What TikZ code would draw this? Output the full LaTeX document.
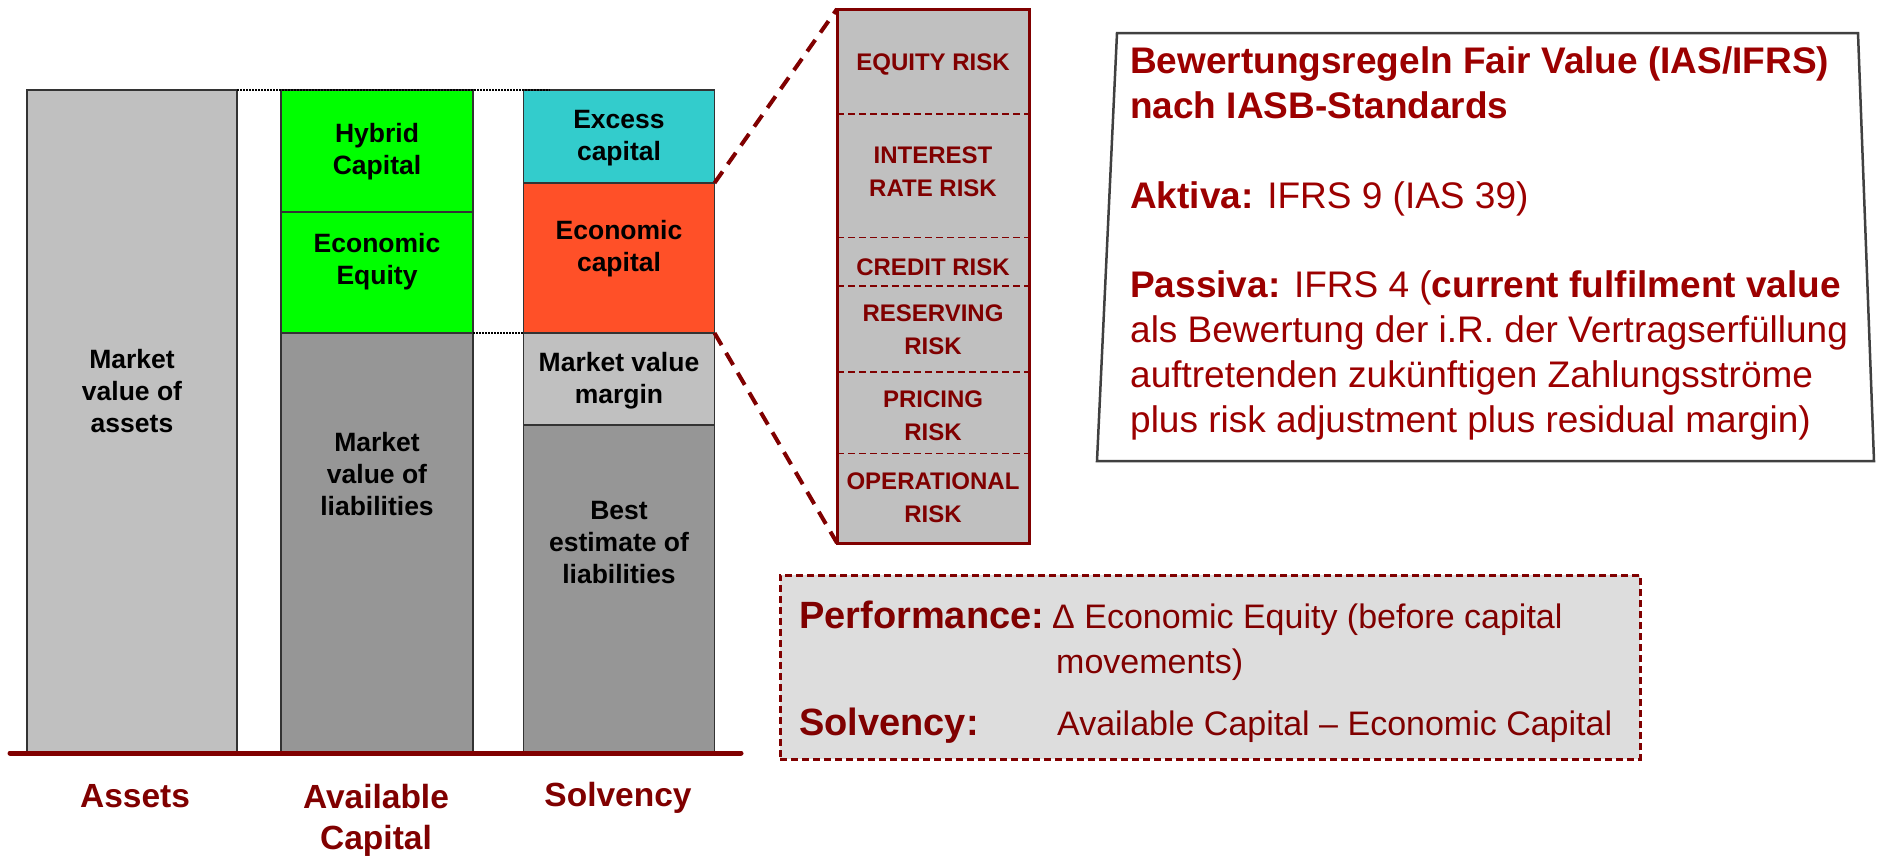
\documentclass[tikz,border=0pt]{standalone}
\usepackage{fontspec}
\setmainfont{Liberation Sans}
\usetikzlibrary{calc}

\definecolor{dred}{HTML}{800000}
\definecolor{fvred}{HTML}{9C0000}
\definecolor{lightbar}{HTML}{C0C0C0}
\definecolor{darkbar}{HTML}{969696}
\definecolor{eqgreen}{HTML}{00FF00}
\definecolor{exccyan}{HTML}{33CCCC}
\definecolor{ecored}{HTML}{FF5028}
\definecolor{kpigray}{HTML}{DDDDDD}
\definecolor{framegray}{HTML}{404040}
\definecolor{barline}{HTML}{333333}

\begin{document}
\begin{tikzpicture}[x=1pt,y=-1pt,
  bar/.style={draw=barline, line width=1.3pt, inner sep=0pt, outer sep=0pt},
  bartext/.style={font=\fontsize{26.5}{32}\selectfont\bfseries, align=center, text=black, inner sep=0pt},
  axislabel/.style={font=\fontsize{33.5}{41}\selectfont\bfseries, align=center, text=dred, inner sep=0pt},
  risktext/.style={font=\fontsize{24}{33}\selectfont\bfseries, align=center, text=dred, inner sep=0pt},
  zoomline/.style={draw=dred, line width=4pt, dash pattern=on 14pt off 9pt},
  guide/.style={draw=black, line width=1.5pt, dash pattern=on 1.5pt off 1.5pt},
  sepline/.style={draw=dred, line width=1.5pt, dash pattern=on 7pt off 4pt},
  fvtext/.style={anchor=base west, inner sep=0pt, text=fvred, font=\fontsize{37}{45}\selectfont},
  kpilabel/.style={anchor=base west, inner sep=0pt, text=dred, font=\fontsize{38}{45}\selectfont\bfseries},
  kpitext/.style={anchor=base west, inner sep=0pt, text=dred, font=\fontsize{34}{45}\selectfont}]
\useasboundingbox (0,0) rectangle (1877,857);

% --- balance sheet columns ---
\node[bar, fill=lightbar, minimum width=210pt, minimum height=663pt] (assets) at (132,421.5) {};

\node[bar, fill=eqgreen, minimum width=192pt, minimum height=122pt] (hybrid) at (377,151) {};
\node[bar, fill=eqgreen, minimum width=192pt, minimum height=121pt] (econeq) at (377,272.5) {};
\node[bar, fill=darkbar, minimum width=192pt, minimum height=420pt] (mvl) at (377,543) {};

\node[bar, fill=exccyan, minimum width=191pt, minimum height=93pt] (excess) at (619,136.5) {};
\node[bar, fill=ecored, minimum width=191pt, minimum height=150pt] (econcap) at (619,258) {};
\node[bar, fill=lightbar, minimum width=191pt, minimum height=92pt] (mvm) at (619,379) {};
\node[bar, fill=darkbar, minimum width=191pt, minimum height=328pt] (best) at (619,589) {};

% column texts
\node[bartext] (assetsT) at (132,391) {Market\\value of\\assets};
\node[bartext] (hybridT) at (377,152) {Hybrid\\Capital};
\node[bartext] (econeqT) at (377,262) {Economic\\Equity};
\node[bartext] (mvlT) at (377,474) {Market\\value of\\liabilities};
\node[bartext] (excessT) at (619,138) {Excess\\capital};
\node[bartext] (econcapT) at (619,249) {Economic\\capital};
\node[bartext] (mvmT) at (619,381) {Market value\\margin};
\node[bartext] (bestT) at (619,543) {Best\\estimate of\\liabilities};

% dotted level guides
\coordinate (topend) at (550,90);
\draw[guide] (assets.north east) -- (topend);
\draw[guide] (econeq.south east) -- (mvm.north west);

% base line and axis labels
\coordinate (axisL) at (10,753);
\coordinate (axisR) at (741,753);
\draw[dred, line width=5pt, line cap=round] (axisL) -- (axisR);
\node[axislabel] (labA) at (135,796) {Assets};
\node[axislabel] (labB) at (376,820) {Available\\Capital};
\node[axislabel] (labC) at (618,798) {Solvency};

% --- risk breakdown of the economic capital ---
\node[draw=dred, line width=3pt, fill=lightbar, minimum width=192pt, minimum height=534pt, inner sep=0pt, outer sep=0pt] (risk) at (933,276) {};
\foreach \yy in {114,237.5,286,372,453.6}
  \draw[sepline] (risk.west |- 0,\yy) -- (risk.east |- 0,\yy);
\draw[zoomline] (econcap.north east) -- (risk.north west);
\draw[zoomline] (econcap.south east) -- (risk.south west);
\node[risktext] (r1) at (933,64) {EQUITY RISK};
\node[risktext] (r2) at (933,172) {INTEREST\\RATE RISK};
\node[risktext] (r3) at (933,267) {CREDIT RISK};
\node[risktext] (r4) at (933,330) {RESERVING\\RISK};
\node[risktext] (r5) at (933,416) {PRICING\\RISK};
\node[risktext] (r6) at (933,498) {OPERATIONAL\\RISK};

% --- valuation rules panel ---
\coordinate (fvA) at (1117,33);
\coordinate (fvB) at (1858,33);
\coordinate (fvC) at (1874,461);
\coordinate (fvD) at (1097,461);
\draw[draw=framegray, line width=2.5pt, fill=white, line join=miter] (fvA) -- (fvB) -- (fvC) -- (fvD) -- cycle;
\node[fvtext] (fv1) at (1130,73) {\bfseries Bewertungsregeln Fair Value (IAS/IFRS)};
\node[fvtext] (fv2) at (1130,118) {\bfseries nach IASB-Standards};
\node[fvtext] (fv3) at (1130,208) {\textbf{Aktiva:} IFRS 9 (IAS 39)};
\node[fvtext] (fv4) at (1130,297) {\textbf{Passiva:} IFRS 4 (\textbf{current fulfilment value}};
\node[fvtext] (fv5) at (1130,342) {als Bewertung der i.R. der Vertragserfüllung};
\node[fvtext] (fv6) at (1130,387) {auftretenden zukünftigen Zahlungsströme};
\node[fvtext] (fv7) at (1130,432) {plus risk adjustment plus residual margin)};

% --- performance / solvency definitions ---
\node[draw=dred, line width=3pt, dash pattern=on 7pt off 4pt, fill=kpigray, minimum width=860pt, minimum height=184pt, inner sep=0pt] (kpi) at (1210,667) {};
\node[kpilabel] (perfL) at (799,628) {Performance:};
\node[kpitext] (perfT) at (1052,628) {Δ Economic Equity (before capital};
\node[kpitext] (perfT2) at (1056,673) {movements)};
\node[kpilabel] (solvL) at (799,735) {Solvency:};
\node[kpitext] (solvT) at (1057,735) {Available Capital – Economic Capital};
\end{tikzpicture}
\end{document}
